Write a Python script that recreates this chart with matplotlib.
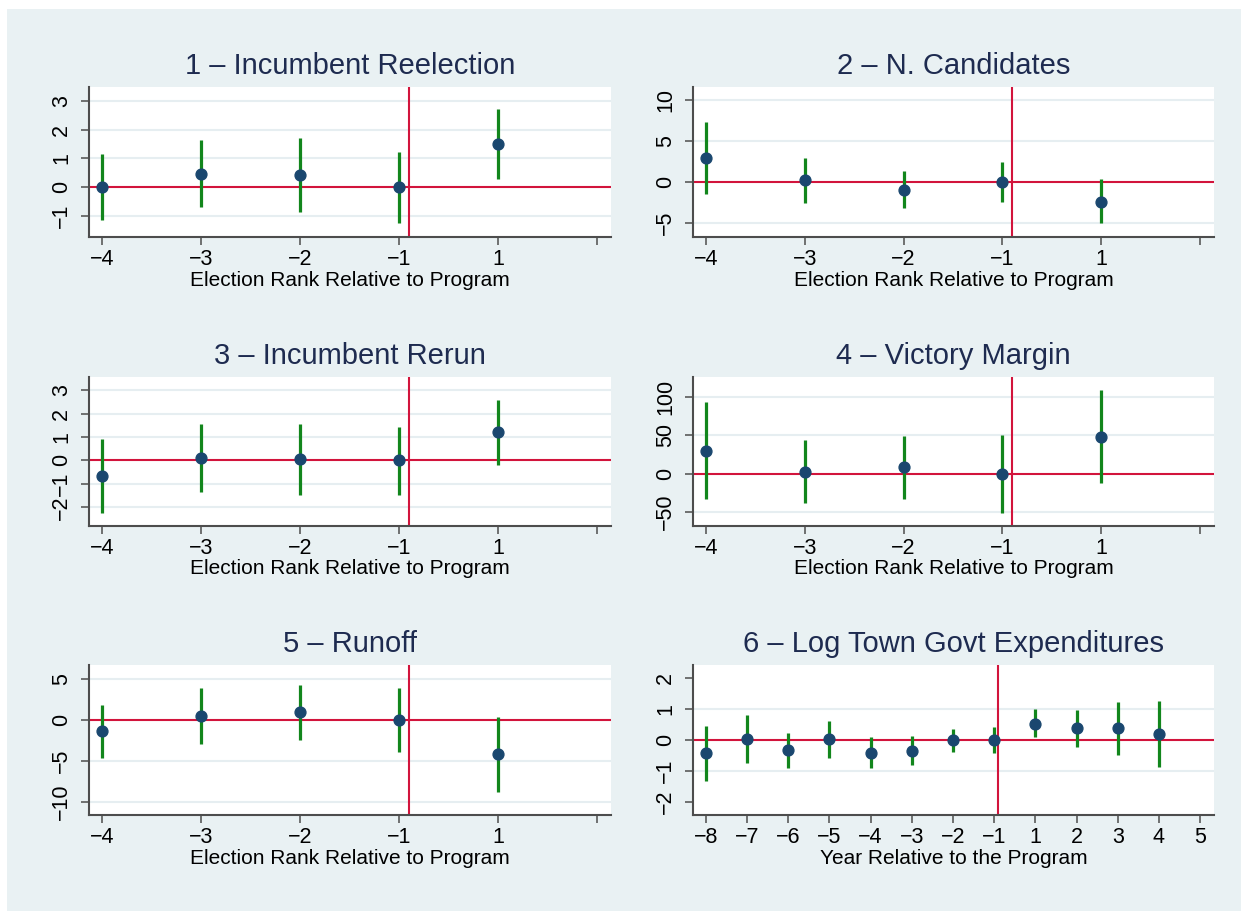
import numpy as np
import matplotlib
matplotlib.use("Agg")
import matplotlib.pyplot as plt

plt.rcParams['font.family'] = ['Liberation Sans', 'DejaVu Sans']

# event-study coefficients with 95% intervals
election_labels = ["−4", "−3", "−2", "−1", "1", ""]
year_labels = ["−8", "−7", "−6", "−5", "−4", "−3", "−2", "−1", "1", "2", "3", "4", "5"]

reelect_b = [0.0, 0.46, 0.43, 0.0, 1.5]
reelect_lo = [-1.16, -0.69, -0.86, -1.26, 0.28]
reelect_hi = [1.14, 1.64, 1.72, 1.24, 2.72]

ncand_b = [2.94, 0.17, -0.95, 0.0, -2.44]
ncand_lo = [-1.49, -2.6, -3.18, -2.52, -5.12]
ncand_hi = [7.35, 2.97, 1.32, 2.48, 0.33]

rerun_b = [-0.67, 0.11, 0.04, 0.0, 1.21]
rerun_lo = [-2.24, -1.37, -1.49, -1.46, -0.19]
rerun_hi = [0.9, 1.54, 1.54, 1.44, 2.59]

margin_b = [30.0, 2.6, 8.3, 0.0, 48.3]
margin_lo = [-33.4, -37.8, -33.0, -50.9, -12.5]
margin_hi = [93.5, 43.5, 48.8, 50.4, 108.7]

runoff_b = [-1.42, 0.45, 0.9, 0.0, -4.18]
runoff_lo = [-4.63, -3.0, -2.48, -3.98, -8.74]
runoff_hi = [1.83, 3.87, 4.27, 3.9, 0.33]

spend_b = [-0.42, 0.04, -0.33, 0.03, -0.41, -0.34, 0.0, 0.0, 0.53, 0.38, 0.38, 0.2]
spend_lo = [-1.33, -0.75, -0.9, -0.58, -0.91, -0.8, -0.38, -0.42, 0.09, -0.23, -0.49, -0.86]
spend_hi = [0.47, 0.82, 0.24, 0.62, 0.1, 0.13, 0.36, 0.41, 1.0, 0.98, 1.24, 1.28]

BG = "#e9f1f3"
GRID = "#e6eef1"
NAVY = "#1a476f"
GREEN = "#12861c"
RED = "#d2143c"
TITLE = "#1e2b50"
AXIS = "#4d4d4d"

W, H = 1241, 911
fig = plt.figure(figsize=(W / 100, H / 100), dpi=100, facecolor="white")

# graph region
bg = fig.add_axes([7 / W, 0, 1 - 7 / W, 1 - 9 / H], zorder=-10)
bg.set_facecolor(BG)
bg.set_xticks([])
bg.set_yticks([])
for s in bg.spines.values():
    s.set_visible(False)


def panel(box, title, b, lo, hi, xlabels, xlim, vline, yticks, ylim, grid, xlab):
    x0, y0, x1, y1 = box
    ax = fig.add_axes([x0 / W, 1 - y1 / H, (x1 - x0) / W, (y1 - y0) / H])
    ax.set_facecolor("white")
    pos = np.arange(1, len(b) + 1)
    for g in grid:
        ax.axhline(g, color=GRID, lw=1.5, zorder=1)
    ax.axhline(0, color=RED, lw=1.5, zorder=2)
    ax.axvline(vline, color=RED, lw=1.5, zorder=2)
    ax.vlines(pos, lo, hi, color=GREEN, lw=2.3, zorder=3)
    ax.plot(pos, b, "o", color=NAVY, ms=7.8, mec=NAVY, zorder=4)
    ax.set_xlim(xlim)
    ax.set_ylim(ylim)
    ax.set_xticks(np.arange(1, len(xlabels) + 1))
    ax.set_xticklabels(xlabels, fontsize=15.5)
    ax.set_yticks(yticks)
    ax.set_yticklabels([str(t).replace("-", "−") for t in yticks], fontsize=15.5,
                       rotation=90, va="center")
    for s in ["top", "right"]:
        ax.spines[s].set_visible(False)
    for s in ["left", "bottom"]:
        ax.spines[s].set_color(AXIS)
        ax.spines[s].set_linewidth(1.5)
    ax.tick_params(axis="x", length=6, width=1.1, color=AXIS, pad=2.5)
    ax.tick_params(axis="y", length=6, width=1.1, color=AXIS, pad=6)
    ax.text(0.5, 1 + 21 / (y1 - y0), title, transform=ax.transAxes, ha="center",
            va="center", fontsize=21, color=TITLE)
    ax.text(0.5, -43 / (y1 - y0), xlab, transform=ax.transAxes, ha="center",
            va="center", fontsize=15, color="black")
    return ax


rank = "Election Rank Relative to Program"
L, R = (89, 611), (693, 1214)
panel((L[0], 87, L[1], 237), "1 – Incumbent Reelection", reelect_b, reelect_lo, reelect_hi,
      election_labels, (0.87, 6.14), 4.1, [-1, 0, 1, 2, 3], (-1.74, 3.49), [-1, 1, 2, 3], rank)
panel((R[0], 87, R[1], 237), "2 – N. Candidates", ncand_b, ncand_lo, ncand_hi,
      election_labels, (0.87, 6.14), 4.1, [-5, 0, 5, 10], (-6.78, 11.65), [-5, 5, 10], rank)
panel((L[0], 377, L[1], 526), "3 – Incumbent Rerun", rerun_b, rerun_lo, rerun_hi,
      election_labels, (0.87, 6.14), 4.1, [-2, -1, 0, 1, 2, 3], (-2.80, 3.56), [-2, -1, 1, 2, 3], rank)
panel((R[0], 377, R[1], 526), "4 – Victory Margin", margin_b, margin_lo, margin_hi,
      election_labels, (0.87, 6.14), 4.1, [-50, 0, 50, 100], (-68.3, 126), [-50, 50, 100], rank)
panel((L[0], 665, L[1], 815), "5 – Runoff", runoff_b, runoff_lo, runoff_hi,
      election_labels, (0.87, 6.14), 4.1, [-10, -5, 0, 5], (-11.59, 6.67), [-10, -5, 5], rank)
panel((R[0], 665, R[1], 815), "6 – Log Town Govt Expenditures", spend_b, spend_lo, spend_hi,
      year_labels, (0.69, 13.335), 8.1, [-2, -1, 0, 1, 2], (-2.42, 2.43), [-1, 1],
      "Year Relative to the Program")

fig.savefig("out.png", dpi=100, facecolor="white")
